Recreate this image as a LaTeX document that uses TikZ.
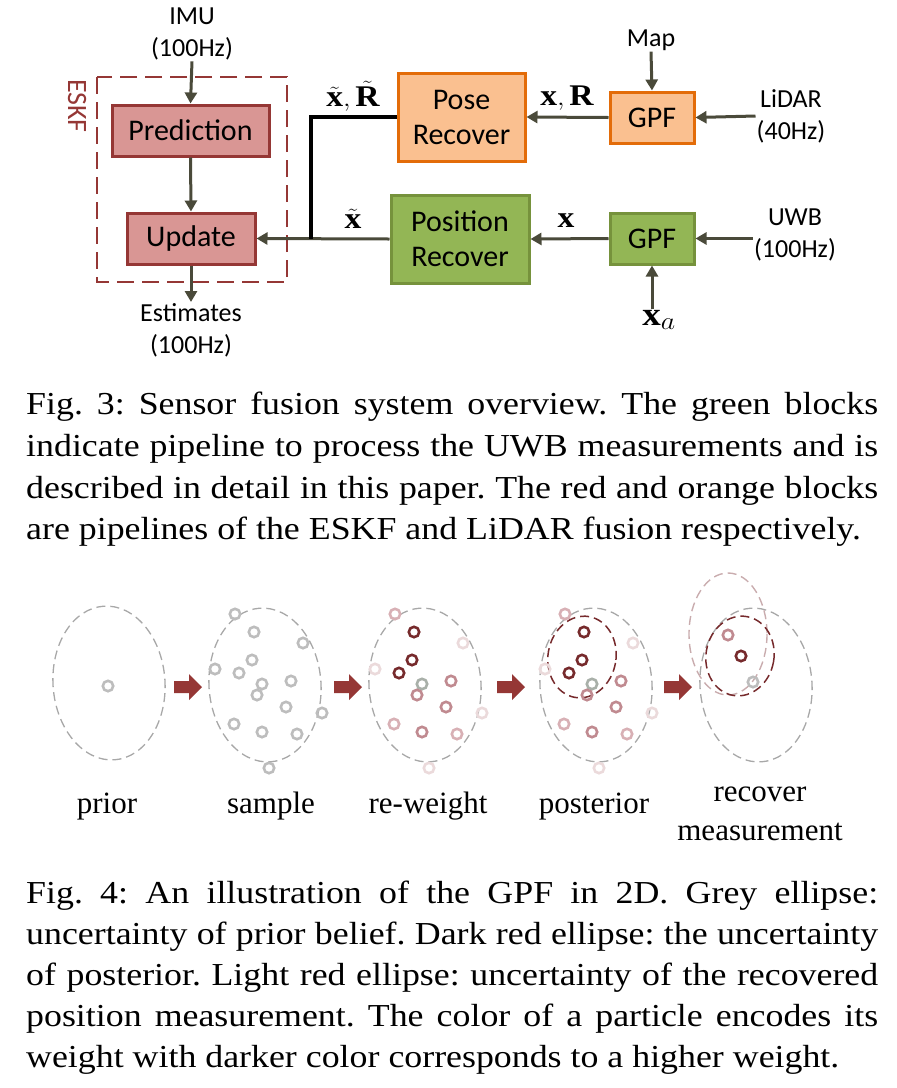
\documentclass[tikz,border=0pt]{standalone}
\usepackage{fontspec}
\usepackage{graphicx}
\setmainfont{Liberation Serif}
\newfontfamily\carl{Carlito}
\usetikzlibrary{arrows.meta}
\newcommand\hsc[1]{\scalebox{1.12}[1]{#1}}
\definecolor{redfill}{HTML}{D99694}
\definecolor{redline}{HTML}{953735}
\definecolor{orfill}{HTML}{FAC090}
\definecolor{orline}{HTML}{E36C09}
\definecolor{grfill}{HTML}{93B655}
\definecolor{grline}{HTML}{76923C}
\definecolor{arr}{HTML}{4A4A3A}
\definecolor{ellgray}{HTML}{A8A8A8}
\definecolor{pdark}{HTML}{762A2C}
\definecolor{pmed}{HTML}{C08A90}
\definecolor{plight}{HTML}{D8B0B5}
\definecolor{pvlight}{HTML}{EBDADB}
\definecolor{pgray}{HTML}{BDBDBD}
\definecolor{pgreen}{HTML}{A9B0A9}
\definecolor{lightell}{HTML}{C9ACAE}
\frenchspacing
\begin{document}
\begin{tikzpicture}[x=1pt,y=-1pt,
  blk/.style={draw,line width=3pt,minimum height=51pt,inner sep=0pt,font=\carl\fontsize{30}{35}\selectfont,align=center},
  redblk/.style={blk,fill=redfill,draw=redline},
  orblk/.style={blk,fill=orfill,draw=orline},
  grblk/.style={blk,fill=grfill,draw=grline},
  lbl/.style={font=\carl\fontsize{26}{32}\selectfont,align=center,inner sep=1pt},
  mlbl/.style={font=\fontsize{30}{30}\selectfont,inner sep=0pt},
  con/.style={draw=arr,line width=3pt,-{Triangle[length=11pt,width=12pt]}},
  captxt/.style={anchor=base west,inner sep=0pt,font=\fontsize{32}{42}\selectfont},
  sublbl/.style={font=\fontsize{31}{40}\selectfont,align=center,inner sep=0pt},
  ell/.style={draw=ellgray,line width=1.3pt,dash pattern=on 9pt off 5pt},
  ptc/.style={draw=#1,line width=2.6pt},
  barrow/.style={fill=redline}
]
\useasboundingbox (0,0) rectangle (897,1088);
% ---------- Fig. 3 ----------
\draw[redline,line width=2pt,dash pattern=on 17pt off 8pt] (97,77) rectangle (287,282);
\node[font=\carl\fontsize{28}{30}\selectfont,text=redline,rotate=-90] (eskf) at (77,106) {ESKF};
\node[redblk,minimum width=157pt] (pred) at (190.5,130.5) {Prediction};
\node[redblk,minimum width=128pt] (upd) at (191,238.5) {Update};
\node[orblk,minimum width=127pt,minimum height=88pt] (pose) at (461.5,117) {Pose\\Recover};
\node[orblk,minimum width=84pt] (gpf1) at (652,117.5) {GPF};
\node[grblk,minimum width=138pt,minimum height=88pt] (posr) at (460,239) {Position\\Recover};
\node[grblk,minimum width=84pt] (gpf2) at (652,238.5) {GPF};
\node[lbl] (imu) at (192,34) {IMU\\(100Hz)};
\node[lbl] (est) at (191,330) {Estimates\\(100Hz)};
\node[lbl] (map) at (651,40) {Map};
\node[lbl] (lidar) at (791,116) {LiDAR\\(40Hz)};
\node[lbl] (uwb) at (795,235) {UWB\\(100Hz)};
\node[font=\fontsize{33}{34}\selectfont,inner sep=1pt] (xa) at (659,320) {\hsc{$\mathbf{x}_a$}};
\node[mlbl] (l1) at (353,96) {\hsc{$\tilde{\mathbf{x}},\tilde{\mathbf{R}}$}};
\node[mlbl] (l2) at (567,98) {\hsc{$\mathbf{x},\mathbf{R}$}};
\node[mlbl] (l3) at (353,219) {\hsc{$\tilde{\mathbf{x}}$}};
\node[mlbl] (l4) at (566,221) {\hsc{$\mathbf{x}$}};
\coordinate (j) at (311,238.5);
\draw[con] (imu.south) -- (pred.north);
\draw[con] (pred.south) -- (upd.north);
\draw[con] (upd.south) -- (est.north);
\draw[con] (map.south) -- (gpf1.north);
\draw[con] (lidar.west) -- (gpf1.east);
\draw[con] (gpf1.west) -- (pose.east);
\draw[con] (uwb.west |- gpf2.east) -- (gpf2.east);
\draw[con] (gpf2.south |- xa.north) -- (gpf2.south);
\draw[con] (gpf2.west) -- (posr.east);
\draw[con] (posr.west) -- (upd.east);
\draw[black,line width=3.5pt] (pose.west) -| (j);
% caption 3
\node[captxt] (c31) at (26,414) {\hsc{\makebox[760.7pt][s]{Fig. 3: Sensor fusion system overview. The green blocks}}};
\node[captxt] (c32) at (26,456) {\hsc{\makebox[760.7pt][s]{indicate pipeline to process the UWB measurements and is}}};
\node[captxt] (c33) at (26,498) {\hsc{\makebox[760.7pt][s]{described in detail in this paper. The red and orange blocks}}};
\node[captxt] (c34) at (26,539) {\hsc{are pipelines of the ESKF and LiDAR fusion respectively.}};
% ---------- Fig. 4 ----------
\draw[ell] (109,683) ellipse [x radius=56,y radius=77,rotate=4];
\draw[ell] (265,685) ellipse [x radius=56,y radius=77,rotate=4];
\draw[ell] (425,685) ellipse [x radius=56,y radius=77,rotate=4];
\draw[ell] (596,685) ellipse [x radius=56,y radius=77,rotate=4];
\draw[ell] (756,685) ellipse [x radius=56,y radius=77,rotate=4];
\draw[draw=pdark,line width=1.5pt,dash pattern=on 9pt off 5pt] (582,657) ellipse [x radius=34,y radius=41,rotate=-10];
\draw[draw=lightell,line width=1.4pt,dash pattern=on 9pt off 5pt] (728,634) ellipse [x radius=39,y radius=61];
\draw[draw=pdark,line width=1.5pt,dash pattern=on 9pt off 5pt] (740,656) ellipse [x radius=34,y radius=40,rotate=-10];
\foreach \ax in {174,334,497,664}{
  \fill[barrow] (\ax,681) -- (\ax+15,681) -- (\ax+15,674) -- (\ax+28,687) -- (\ax+15,700) -- (\ax+15,693) -- (\ax,693) -- cycle;
}
\draw[ptc=pgray] (108,686) circle (5.2);
\foreach \dx/\ca/\cb/\cc/\cd/\ce/\cf/\cg/\ch/\ci/\cj/\ck/\cl/\cm/\cn/\co in {
  0/pgray/pgray/pgray/pgray/pgray/pgray/pgray/pgray/pgray/pgray/pgray/pgray/pgray/pgray/pgray,
  160/plight/pdark/pvlight/pdark/pvlight/pdark/pgreen/pmed/pmed/pmed/pvlight/plight/pmed/plight/pvlight,
  330/plight/pdark/pvlight/pdark/pvlight/pdark/pgreen/pmed/pmed/pmed/pvlight/plight/pmed/plight/pvlight}{
  \draw[ptc=\ca] (235+\dx,614) circle (5.2);
  \draw[ptc=\cb] (254+\dx,632) circle (5.2);
  \draw[ptc=\cc] (303+\dx,643) circle (5.2);
  \draw[ptc=\cd] (252+\dx,660) circle (5.2);
  \draw[ptc=\ce] (215+\dx,669) circle (5.2);
  \draw[ptc=\cf] (239+\dx,673) circle (5.2);
  \draw[ptc=\cg] (262+\dx,684) circle (5.2);
  \draw[ptc=\ch] (257+\dx,695) circle (5.2);
  \draw[ptc=\ci] (291+\dx,681) circle (5.2);
  \draw[ptc=\cj] (286+\dx,707) circle (5.2);
  \draw[ptc=\ck] (322+\dx,713) circle (5.2);
  \draw[ptc=\cl] (234+\dx,724) circle (5.2);
  \draw[ptc=\cm] (262+\dx,732) circle (5.2);
  \draw[ptc=\cn] (297+\dx,734) circle (5.2);
  \draw[ptc=\co] (269+\dx,768) circle (5.2);
}
\draw[ptc=pmed] (728,635) circle (5.2);
\draw[ptc=pdark] (741,656) circle (5.2);
\draw[ptc=pgray] (753,682) circle (5.2);
\node[sublbl,anchor=base] (s1) at (107,813) {prior};
\node[sublbl,anchor=base] (s2) at (271,813) {sample};
\node[sublbl,anchor=base] (s3) at (428,813) {re-weight};
\node[sublbl,anchor=base] (s4) at (594,813) {posterior};
\node[sublbl,anchor=base] (s5) at (760,801) {recover};
\node[sublbl,anchor=base] (s6) at (760,840) {measurement};
% caption 4
\node[captxt] (c41) at (26,903) {\hsc{\makebox[760.7pt][s]{Fig. 4: An illustration of the GPF in 2D. Grey ellipse:}}};
\node[captxt] (c42) at (26,944) {\hsc{\makebox[760.7pt][s]{uncertainty of prior belief. Dark red ellipse: the uncertainty}}};
\node[captxt] (c43) at (26,985) {\hsc{\makebox[760.7pt][s]{of posterior. Light red ellipse: uncertainty of the recovered}}};
\node[captxt] (c44) at (26,1026) {\hsc{\makebox[760.7pt][s]{position measurement. The color of a particle encodes its}}};
\node[captxt] (c45) at (26,1067) {\hsc{weight with darker color corresponds to a higher weight.}};
\end{tikzpicture}
\end{document}
